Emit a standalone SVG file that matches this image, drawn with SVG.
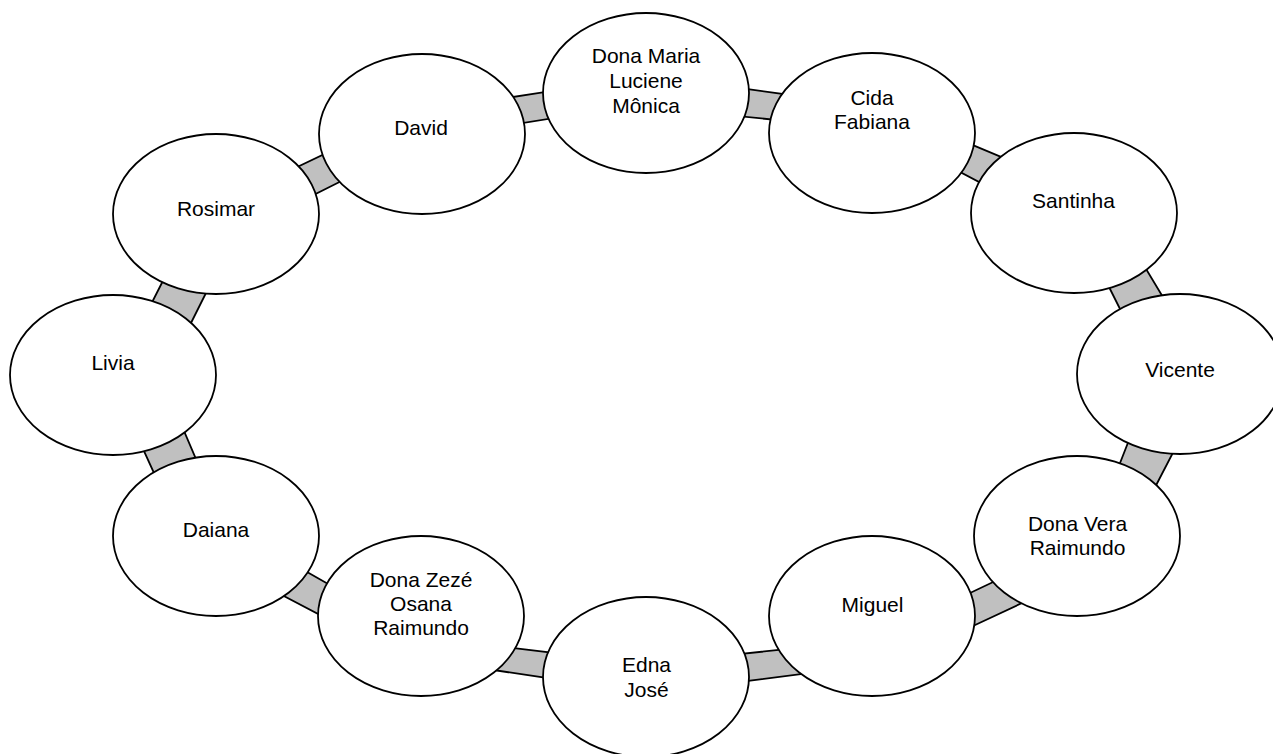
<svg xmlns="http://www.w3.org/2000/svg" width="1273" height="754" viewBox="0 0 1273 754">
<style>
.bg{fill:#ffffff}
.band{fill:#c0c0c0;stroke:#000000;stroke-width:1.8;stroke-linejoin:miter}
.node ellipse{fill:#ffffff;stroke:#000000;stroke-width:1.8}
.node text{font-family:"Liberation Sans",Arial,sans-serif;font-size:21px;fill:#000000;text-anchor:middle}
</style>
<rect class="bg" x="0" y="0" width="1273" height="754"/>
<g id="connectors">
<polygon class="band" points="500,99 560,89.7 560,117.1 500,126.7"/>
<polygon class="band" points="730,86.6 800,96.4 800,122.3 730,115.3"/>
<polygon class="band" points="955,137.6 1020,164.9 1000,193.1 945,164"/>
<polygon class="band" points="1100,269 1130,329 1174,315.5 1138,255.5"/>
<polygon class="band" points="1131,435 1113,481 1150,497 1178,443"/>
<polygon class="band" points="950,602.5 1010,574 1030,599.3 950,636.7"/>
<polygon class="band" points="720,656.1 810,646.7 830,670.4 720,684.5"/>
<polygon class="band" points="480,644.1 580,656.1 580,683 470,666.5"/>
<polygon class="band" points="290,562.2 340,590.7 345,628.1 270,588.8"/>
<polygon class="band" points="138,437.9 162,490.7 205,480.1 178,416.9"/>
<polygon class="band" points="171,265 143,320 182.5,340 217.5,270"/>
<polygon class="band" points="280,175.3 345,144.1 360,171.7 295,204.2"/>
</g>
<g id="node-dona-maria" class="node">
<ellipse cx="646" cy="93" rx="103" ry="80"/>
<text x="646" y="63">Dona Maria</text>
<text x="646" y="88">Luciene</text>
<text x="646" y="112.5">Mônica</text>
</g>
<g id="node-cida" class="node">
<ellipse cx="872" cy="133" rx="103" ry="80"/>
<text x="872" y="105">Cida</text>
<text x="872" y="129">Fabiana</text>
</g>
<g id="node-santinha" class="node">
<ellipse cx="1074" cy="213" rx="103" ry="80"/>
<text x="1073.5" y="208">Santinha</text>
</g>
<g id="node-vicente" class="node">
<ellipse cx="1180" cy="374" rx="103" ry="80"/>
<text x="1180" y="377">Vicente</text>
</g>
<g id="node-dona-vera" class="node">
<ellipse cx="1077" cy="536" rx="103" ry="80"/>
<text x="1077.5" y="531">Dona Vera</text>
<text x="1077.5" y="555">Raimundo</text>
</g>
<g id="node-miguel" class="node">
<ellipse cx="872" cy="616" rx="103" ry="80"/>
<text x="872.5" y="612">Miguel</text>
</g>
<g id="node-edna" class="node">
<ellipse cx="646" cy="677" rx="103" ry="80"/>
<text x="646.5" y="672">Edna</text>
<text x="646.5" y="697">José</text>
</g>
<g id="node-dona-zeze" class="node">
<ellipse cx="421" cy="616" rx="103" ry="80"/>
<text x="421" y="587">Dona Zezé</text>
<text x="421" y="611">Osana</text>
<text x="421" y="634.5">Raimundo</text>
</g>
<g id="node-daiana" class="node">
<ellipse cx="216" cy="536" rx="103" ry="80"/>
<text x="216" y="537">Daiana</text>
</g>
<g id="node-livia" class="node">
<ellipse cx="113" cy="375" rx="103" ry="80"/>
<text x="113" y="370">Livia</text>
</g>
<g id="node-rosimar" class="node">
<ellipse cx="216" cy="214" rx="103" ry="80"/>
<text x="216" y="216">Rosimar</text>
</g>
<g id="node-david" class="node">
<ellipse cx="422" cy="134" rx="103" ry="80"/>
<text x="421" y="135">David</text>
</g>
</svg>
